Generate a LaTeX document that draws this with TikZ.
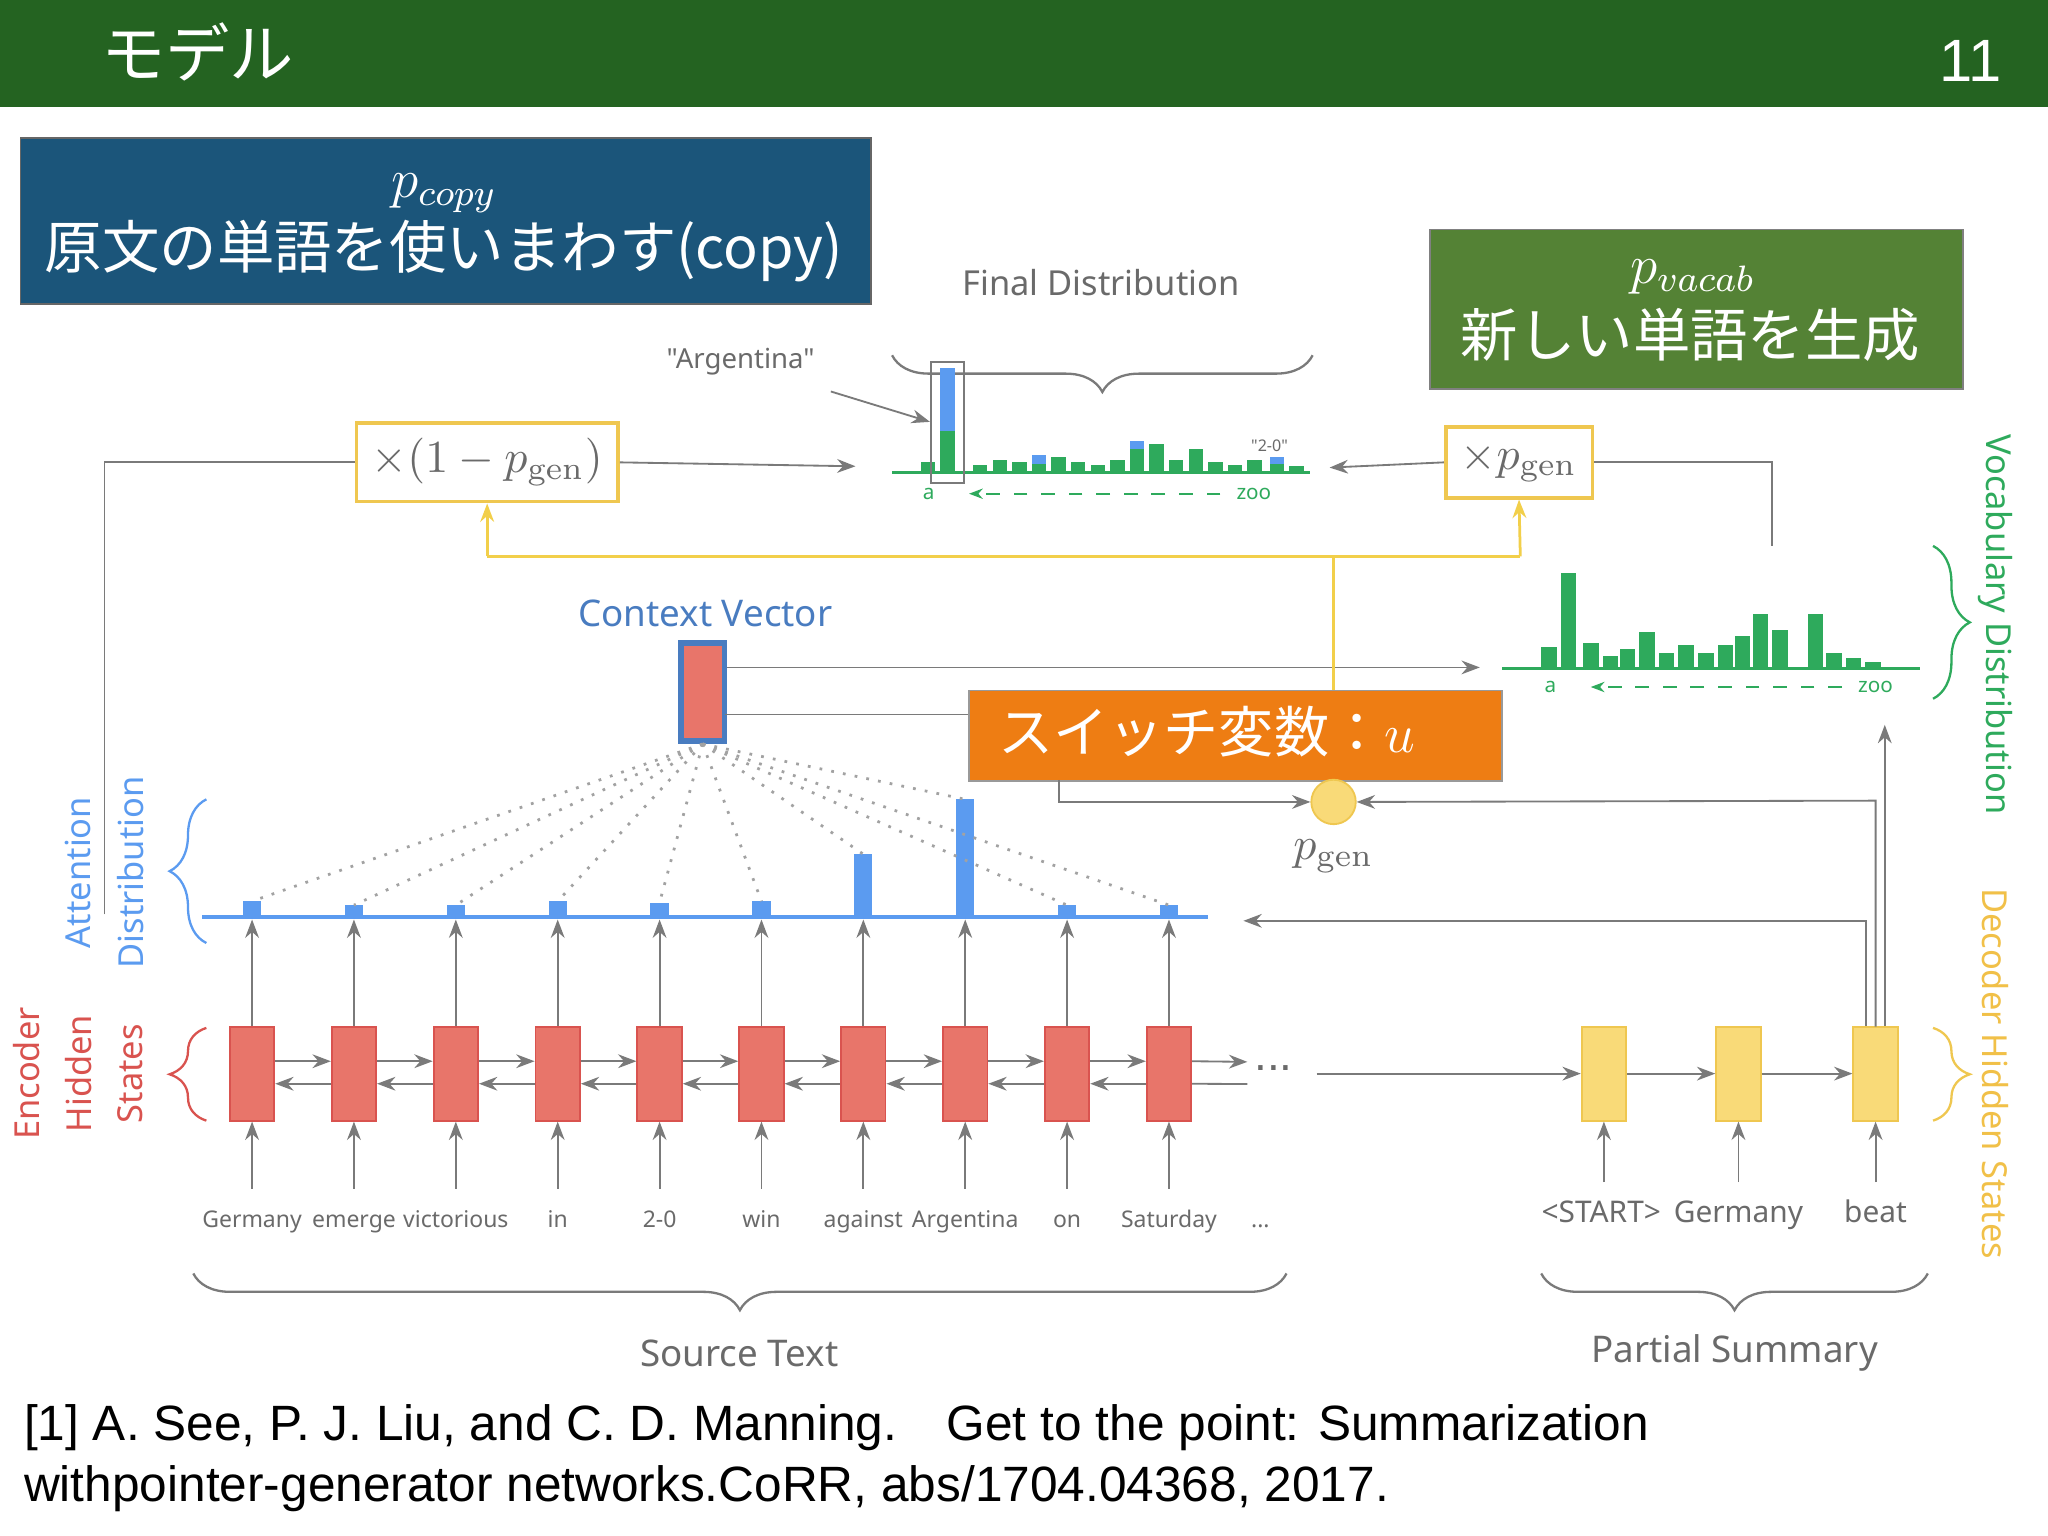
\documentclass[tikz,border=0pt]{standalone}
\usepackage{fontspec}
\setmainfont{Liberation Sans}
\newfontfamily\cjk{Noto Sans CJK JP}
\newfontfamily\lab{Noto Sans}
\newfontfamily\serf{Latin Modern Roman}
\usetikzlibrary{arrows.meta,decorations.pathreplacing}
\definecolor{barG}{HTML}{246321}
\definecolor{boxB}{HTML}{1B557A}
\definecolor{boxG}{HTML}{548235}
\definecolor{boxO}{HTML}{EE7D13}
\definecolor{encR}{HTML}{E8756A}
\definecolor{encRb}{HTML}{D9534F}
\definecolor{decY}{HTML}{F9DA78}
\definecolor{decYb}{HTML}{EFC750}
\definecolor{attB}{HTML}{5B9BF0}
\definecolor{dstG}{HTML}{2EAA5C}
\definecolor{gline}{HTML}{7A7A7A}
\definecolor{yline}{HTML}{F2CF4A}
\definecolor{txtG}{HTML}{6A6A6A}
\newcommand{\pg}{p_{\hbox{\serf\fontsize{7}{7}\selectfont gen}}}
\tikzset{
  conn/.style={draw=gline, line width=0.4pt, -{Stealth[length=4pt]}},
  plain/.style={draw=gline, line width=0.4pt},
  ylw/.style={draw=yline, line width=0.6pt},
  enc/.style={draw=encRb, fill=encR, minimum width=0.34cm, minimum height=0.72cm, inner sep=0pt},
  dec/.style={draw=decYb, fill=decY, minimum width=0.34cm, minimum height=0.72cm, inner sep=0pt},
  word/.style={text=txtG, anchor=base, font=\lab\fontsize{5}{6}\selectfont},
  glab/.style={text=txtG, font=\lab\fontsize{7.5}{8}\selectfont},
  brc/.style={draw=gline, line width=0.5pt, decorate, decoration={brace, amplitude=8pt}},
}
\begin{document}
\begin{tikzpicture}[x=0.01cm,y=-0.01cm]
\useasboundingbox (0,0) rectangle (1568,1176);
\fill[white] (0,0) rectangle (1568,1176);
% header
\fill[barG] (0,0) rectangle (1568,82);
\node[text=white, anchor=west, font=\cjk\fontsize{14}{14}\selectfont] (title) at (65,40) {モデル};
\node[text=white, anchor=east, font=\fontsize{13}{13}\selectfont] (pg) at (1545,47) {11};
% boxes
\node[draw=black!60, fill=boxB, minimum width=6.51cm, minimum height=1.27cm, anchor=north west, inner sep=0pt] (copyb) at (15,105) {};
\node[text=white, font=\fontsize{12}{12}\selectfont] at (340,148) {$p_{copy}$};
\node[text=white, font=\cjk\fontsize{12.5}{12.5}\selectfont] at (340,192) {原文の単語を使いまわす(copy)};
\node[draw=black!50, fill=boxG, minimum width=4.08cm, minimum height=1.22cm, anchor=north west, inner sep=0pt] (vocb) at (1094,175) {};
\node[text=white, font=\fontsize{12}{12}\selectfont] at (1296,212) {$p_{vacab}$};
\node[text=white, anchor=west, font=\cjk\fontsize{12.5}{12.5}\selectfont] at (1106,256) {新しい単語を生成};
% final distribution
\node[glab] (fdl) at (843,216) {Final Distribution};
\draw[brc] (1005,272) -- (683,272);
\node[glab, font=\lab\fontsize{6}{6}\selectfont] (arg) at (567,277) {"Argentina"};
\foreach \x/\h in {705/8,720/80,745/6,760/10,775/8,790/14,805/12,820/8,835/6,850/10,865/18,880/22,895/10,910/18,925/8,940/6,955/10,972/12,987/5}
  \fill[dstG] (\x,362) rectangle ++(11,-\h);
\fill[attB] (720,282) rectangle (731,330);
\fill[attB] (790,348) rectangle (801,355);
\fill[attB] (865,338) rectangle (876,344);
\fill[attB] (972,350) rectangle (983,355);
\draw[dstG, line width=0.6pt] (683,362) -- (1003,362);
\draw[gline, line width=0.4pt] (713,277) rectangle (738,370);
\node[glab, font=\lab\fontsize{3.5}{4}\selectfont] at (972,341) {"2-0"};
\coordinate (argt) at (712,323);
\draw[conn] (arg.south east) -- (argt);
\node[text=dstG, font=\lab\fontsize{4.5}{5}\selectfont] (fa) at (711,378) {a};
\node[text=dstG, font=\lab\fontsize{4.5}{5}\selectfont] (fz) at (960,378) {zoo};
\draw[dstG, dashed, -{Stealth[length=3pt]}] (fz.west) -- ([xshift=4pt]fa.east);
% multiply boxes
\node[draw=decYb, line width=0.8pt, fill=white, minimum width=1.92cm, minimum height=0.52cm, text=txtG, font=\fontsize{10}{10}\selectfont] (m1) at (373,354) {$\times(1-\pg)$};
\node[draw=decYb, line width=0.8pt, fill=white, minimum width=0.99cm, minimum height=0.52cm, text=txtG, font=\fontsize{10}{10}\selectfont] (m2) at (1163,354) {$\times \pg$};
\coordinate (fdl1) at (655,357);
\coordinate (fdr1) at (1018,358);
\draw[conn] (m1.east) -- (fdl1);
\draw[conn] (m2.west) -- (fdr1);
\coordinate (lt) at (80,700);
\draw[plain] (lt) |- (m1.west);
\coordinate (rt) at (1357,418);
\draw[plain] (m2.east) -| (rt);
% yellow
\coordinate (ya) at (373,426); \coordinate (yb) at (1164,426); \coordinate (yc) at (1021,426);
\draw[ylw] (ya) -- (yb);
\draw[ylw, -{Stealth[length=4pt]}] (ya) -- (m1.south);
\draw[ylw, -{Stealth[length=4pt]}] (yb) -- (m2.south);
% vocabulary distribution
\foreach \x/\h in {1180/17,1195/73,1212/20,1227/10,1240/15,1255/28,1270/12,1285/18,1300/12,1315/18,1328/25,1342/42,1357/30,1384/42,1398/12,1413/8,1428/5}
  \fill[dstG] (\x,512) rectangle ++(12,-\h);
\draw[dstG, line width=0.6pt] (1150,512) -- (1470,512);
\node[text=dstG, font=\lab\fontsize{4.5}{5}\selectfont] (va) at (1187,526) {a};
\node[text=dstG, font=\lab\fontsize{4.5}{5}\selectfont] (vz) at (1436,526) {zoo};
\draw[dstG, dashed, -{Stealth[length=3pt]}] (vz.west) -- ([xshift=4pt]va.east);
% context vector
\node[text=attB!80!black, font=\lab\fontsize{8}{8}\selectfont] (cvl) at (540,470) {Context Vector};
\node[draw=attB!80!black, line width=1.2pt, fill=encR, minimum width=0.33cm, minimum height=0.75cm, inner sep=0pt] (cv) at (538,530) {};
\coordinate (vin) at (1133,511);
\draw[conn] (cv.east |- vin) -- (vin);
% switch
\node[draw=black!40, fill=boxO, minimum width=4.08cm, minimum height=0.69cm, anchor=north west, inner sep=0pt] (sw) at (741,528) {};
\node[text=white, anchor=west, font=\cjk\fontsize{12}{12}\selectfont] at (752,560) {スイッチ変数：$u$};
\draw[plain] (555,547) -- (741,547);
\node[circle, fill=decY, draw=decYb, minimum size=0.34cm, inner sep=0pt] (pgc) at (1021,614) {};
\node[text=txtG, font=\fontsize{10}{10}\selectfont] (pgl) at (1021,656) {$\pg$};
\draw[ylw] (yc) -- (1021,528);
\draw[ylw] (1021,597) -- (pgc.north);
\coordinate (sw1) at (811,597);
\draw[conn] (sw1) |- (pgc.west);
% attention distribution
\draw[attB, line width=0.7pt] (155,702) -- (925,702);
\foreach \i/\x/\h in {1/193/12,2/271/9,3/349/9,4/427/12,5/505/11,6/583/12,7/661/48,8/739/90,9/817/9,10/895/9}{
  \node[enc] (e\i) at (\x,822) {};
  \fill[attB] (\x-7,702) rectangle (\x+7,702-\h);
  \coordinate (a\i) at (\x,702-\h);
  \draw[gline!70, dotted, line width=0.6pt] (cv.south) -- (a\i);
  \draw[conn] (e\i.north) -- (\x,704);
}
\foreach \i/\w in {1/Germany,2/emerge,3/victorious,4/in,5/2-0,6/win,7/against,8/Argentina,9/on,10/Saturday}
  \node[word] (w\i) at (e\i |- 0,940) {\w};
\node[word] at (965,940) {...};
\foreach \i in {1,...,10} \draw[conn] (e\i |- 0,910) -- (e\i.south);
\foreach \i [evaluate=\i as \j using int(\i+1)] in {1,...,9}{
  \draw[conn] ([yshift=2.7pt]e\i.east) -- ([yshift=2.7pt]e\j.west);
  \draw[conn] ([yshift=-2.2pt]e\j.west) -- ([yshift=-2.2pt]e\i.east);
}
\coordinate (ell) at (955,813); \coordinate (ell2) at (955,830);
\draw[conn] ([yshift=2.7pt]e10.east) -- (ell);
\draw[plain] (ell2) -- ([yshift=-2.2pt]e10.east);
\node[text=txtG] at (975,818) {...};
% decoder
\node[dec] (d1) at (1228,822) {};
\node[dec] (d2) at (1331,822) {};
\node[dec] (d3) at (1436,822) {};
\coordinate (dl) at (1008,822);
\draw[conn] (dl) -- (d1.west);
\draw[conn] (d1.east) -- (d2.west);
\draw[conn] (d2.east) -- (d3.west);
\node[word, font=\lab\fontsize{6.5}{7}\selectfont] (dw1) at (1226,936) {<START>};
\node[word, font=\lab\fontsize{6.5}{7}\selectfont] (dw2) at (1331,936) {Germany};
\node[word, font=\lab\fontsize{6.5}{7}\selectfont] (dw3) at (1436,936) {beat};
\foreach \k in {1,2,3} \draw[conn] (d\k |- 0,905) -- (d\k.south);
\coordinate (att) at (952,705);
\draw[conn] ([xshift=-2pt]d3.north) |- (att);
\coordinate (vup) at (1443,555);
\draw[conn] ([xshift=2pt]d3.north) -- ([xshift=2pt]d3.north |- vup);
\draw[conn] (1436,786) -- (1436,613) -- (pgc.east);
% braces bottom
\draw[brc] (985,975) -- (148,975);
\node[glab, font=\lab\fontsize{8}{8}\selectfont] (st) at (566,1036) {Source Text};
\draw[brc] (1476,975) -- (1180,975);
\node[glab, font=\lab\fontsize{8}{8}\selectfont] (ps) at (1328,1036) {Partial Summary};
% left labels
\node[rotate=90, text=encRb, font=\lab\fontsize{7.5}{8}\selectfont] at (20,822) {Encoder};
\node[rotate=90, text=encRb, font=\lab\fontsize{7.5}{8}\selectfont] at (60,822) {Hidden};
\node[rotate=90, text=encRb, font=\lab\fontsize{7.5}{8}\selectfont] at (100,822) {States};
\draw[brc, draw=encRb] (158,858) -- (158,787);
\node[rotate=90, text=attB, font=\lab\fontsize{7.5}{8}\selectfont] at (60,668) {Attention};
\node[rotate=90, text=attB, font=\lab\fontsize{7.5}{8}\selectfont] at (100,668) {Distribution};
\draw[brc, draw=attB] (158,722) -- (158,612);
% right labels
\node[rotate=-90, text=dstG, font=\lab\fontsize{7.5}{8}\selectfont] at (1528,478) {Vocabulary Distribution};
\draw[brc, draw=dstG] (1480,418) -- (1480,535);
\node[rotate=-90, text=decYb!90!orange, font=\lab\fontsize{7.5}{8}\selectfont] at (1528,822) {Decoder Hidden States};
\draw[brc, draw=decYb] (1480,787) -- (1480,858);
% reference
\node[anchor=west, font=\fontsize{10.8}{11}\selectfont] (r1) at (6,1093) {[1] A. See, P. J. Liu, and C. D. Manning.\quad Get to the point: Summarization};
\node[anchor=west, font=\fontsize{10.8}{11}\selectfont] (r2) at (6,1140) {withpointer-generator networks.CoRR, abs/1704.04368, 2017.};
\end{tikzpicture}
\end{document}
